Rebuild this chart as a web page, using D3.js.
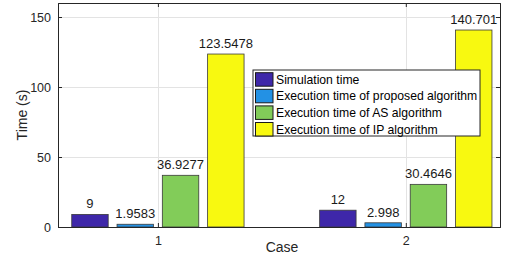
<!DOCTYPE html>
<html>
<head>
<meta charset="utf-8">
<script src="https://cdn.jsdelivr.net/npm/d3@7"></script>
<style>
  body { margin: 0; background: #fff; }
  svg { font-family: "Liberation Sans", Arial, sans-serif; }
</style>
</head>
<body>
<svg id="chart" width="506" height="258"></svg>
<script>
// chart data
const cases = [1, 2];
const seriesNames = [
  "Simulation time",
  "Execution time of proposed algorithm",
  "Execution time of AS algorithm",
  "Execution time of IP algorithm"
];
const simTime = [9, 12];
const proposedTime = [1.9583, 2.998];
const asTime = [36.9277, 30.4646];
const ipTime = [123.5478, 140.701];
const labels = [["9", "12"], ["1.9583", "2.998"], ["36.9277", "30.4646"], ["123.5478", "140.701"]];
const yTicks = [0, 50, 100, 150];

const colors = ["#3e27a9", "#2391e4", "#82cc59", "#f8f910"];
const series = [simTime, proposedTime, asTime, ipTime];

const svg = d3.select("#chart");
const margin = {top: 3, right: 6, bottom: 31, left: 58};
const width = 506, height = 258;

const x = d3.scaleLinear([0.597, 2.38], [margin.left, width - margin.right]);
const y = d3.scaleLinear([0, 160], [height - margin.bottom, margin.top]);

const groupStep = 0.1827;   // spacing between bars in a group (x units)
const barW = 0.147;

// grid
const grid = svg.append("g").attr("stroke", "#e3e3e3").attr("stroke-width", 1);
grid.selectAll("line.h").data(yTicks.filter(d => d > 0)).join("line")
  .attr("x1", margin.left).attr("x2", width - margin.right)
  .attr("y1", d => Math.round(y(d)) + 0.5).attr("y2", d => Math.round(y(d)) + 0.5);
grid.selectAll("line.v").data(cases).join("line")
  .attr("x1", d => Math.round(x(d)) + 0.5).attr("x2", d => Math.round(x(d)) + 0.5)
  .attr("y1", margin.top).attr("y2", height - margin.bottom);

// bars
const flat = [];
series.forEach((s, si) => s.forEach((v, ci) => flat.push({si, ci, v, label: labels[si][ci]})));

svg.append("g").selectAll("rect").data(flat).join("rect")
  .attr("x", d => x(cases[d.ci] + (d.si - 1.5) * groupStep - barW / 2))
  .attr("width", x(barW) - x(0))
  .attr("y", d => y(d.v))
  .attr("height", d => y(0) - y(d.v))
  .attr("fill", d => colors[d.si])
  .attr("stroke", "#3a3a3a")
  .attr("stroke-width", 0.8);

svg.append("g").selectAll("text").data(flat).join("text")
  .attr("x", d => x(cases[d.ci] + (d.si - 1.5) * groupStep))
  .attr("y", d => y(d.v) - 6)
  .attr("text-anchor", "middle")
  .attr("font-size", 13)
  .attr("fill", "#1a1a1a")
  .text(d => d.label);

// axes
const axisColor = "#262626";
const xb = svg.append("g").attr("transform", `translate(0,${y(0)})`)
  .call(d3.axisBottom(x).tickValues(cases).tickSize(-4).tickPadding(9).tickFormat(d3.format("d")));
const xt = svg.append("g").attr("transform", `translate(0,${y(160)})`)
  .call(d3.axisTop(x).tickValues(cases).tickSize(-4).tickFormat(""));
const yl = svg.append("g").attr("transform", `translate(${x(0.597)},0)`)
  .call(d3.axisLeft(y).tickValues(yTicks).tickSize(-4).tickPadding(7));
const yr = svg.append("g").attr("transform", `translate(${x(2.38)},0)`)
  .call(d3.axisRight(y).tickValues(yTicks).tickSize(-4).tickFormat(""));
[xb, xt, yl, yr].forEach(g => {
  g.select(".domain").attr("stroke", axisColor);
  g.selectAll(".tick line").attr("stroke", axisColor);
  g.selectAll(".tick text").attr("fill", axisColor).attr("font-size", 12.5)
    .attr("font-family", "Liberation Sans, Arial, sans-serif");
});

svg.append("text")
  .attr("x", 282).attr("y", 252)
  .attr("text-anchor", "middle").attr("font-size", 14).attr("fill", axisColor)
  .text("Case");
svg.append("text")
  .attr("transform", `translate(27,${(margin.top + y(0)) / 2}) rotate(-90)`)
  .attr("text-anchor", "middle").attr("font-size", 14).attr("fill", axisColor)
  .text("Time (s)");

// legend
const lg = svg.append("g").attr("transform", "translate(253,70)");
lg.append("rect").attr("width", 227).attr("height", 66)
  .attr("fill", "#fff").attr("stroke", "#262626").attr("stroke-width", 1);
const items = lg.selectAll("g").data(seriesNames).join("g")
  .attr("transform", (d, i) => `translate(2.5,${2.7 + i * 16.6})`);
items.append("rect").attr("width", 17.5).attr("height", 13.5)
  .attr("fill", (d, i) => colors[i]).attr("stroke", "#1a1a1a").attr("stroke-width", 1);
items.append("text").attr("x", 20.5).attr("y", 11)
  .attr("font-size", 12.2).attr("fill", "#000").text(d => d);
</script>
</body>
</html>
